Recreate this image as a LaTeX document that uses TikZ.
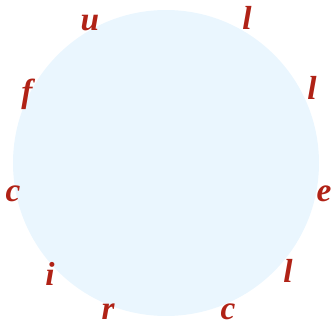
\documentclass[tikz,border=0pt]{standalone}
\usepackage{fontspec}
\setmainfont{Liberation Serif}
\usepackage{tikz}
\definecolor{lettred}{RGB}{176,34,22}
\definecolor{discblue}{RGB}{234,246,254}
\tikzset{letter/.style={text=lettred,font=\fontsize{20}{24}\selectfont\bfseries\itshape,inner sep=0pt}}

\begin{document}
\begin{tikzpicture}[x=0.6pt,y=0.6pt]
\useasboundingbox (0,0) rectangle (331,327);
\coordinate (O) at (166,164);

\fill[discblue] (O) circle (153);

\node[letter] (c1) at (13,133) {c};
\node[letter] (i1) at (50,53) {i};
\node[letter] (r1) at (108,15) {r};
\node[letter] (c2) at (228,15) {c};
\node[letter] (l1) at (288,56) {l};
\node[letter] (e1) at (324,133) {e};
\node[letter] (l2) at (312,239) {l};
\node[letter] (l3) at (247,309) {l};
\node[letter] (u1) at (90,304) {u};
\node[letter] (f1) at (27,233) {f};
\end{tikzpicture}
\end{document}
